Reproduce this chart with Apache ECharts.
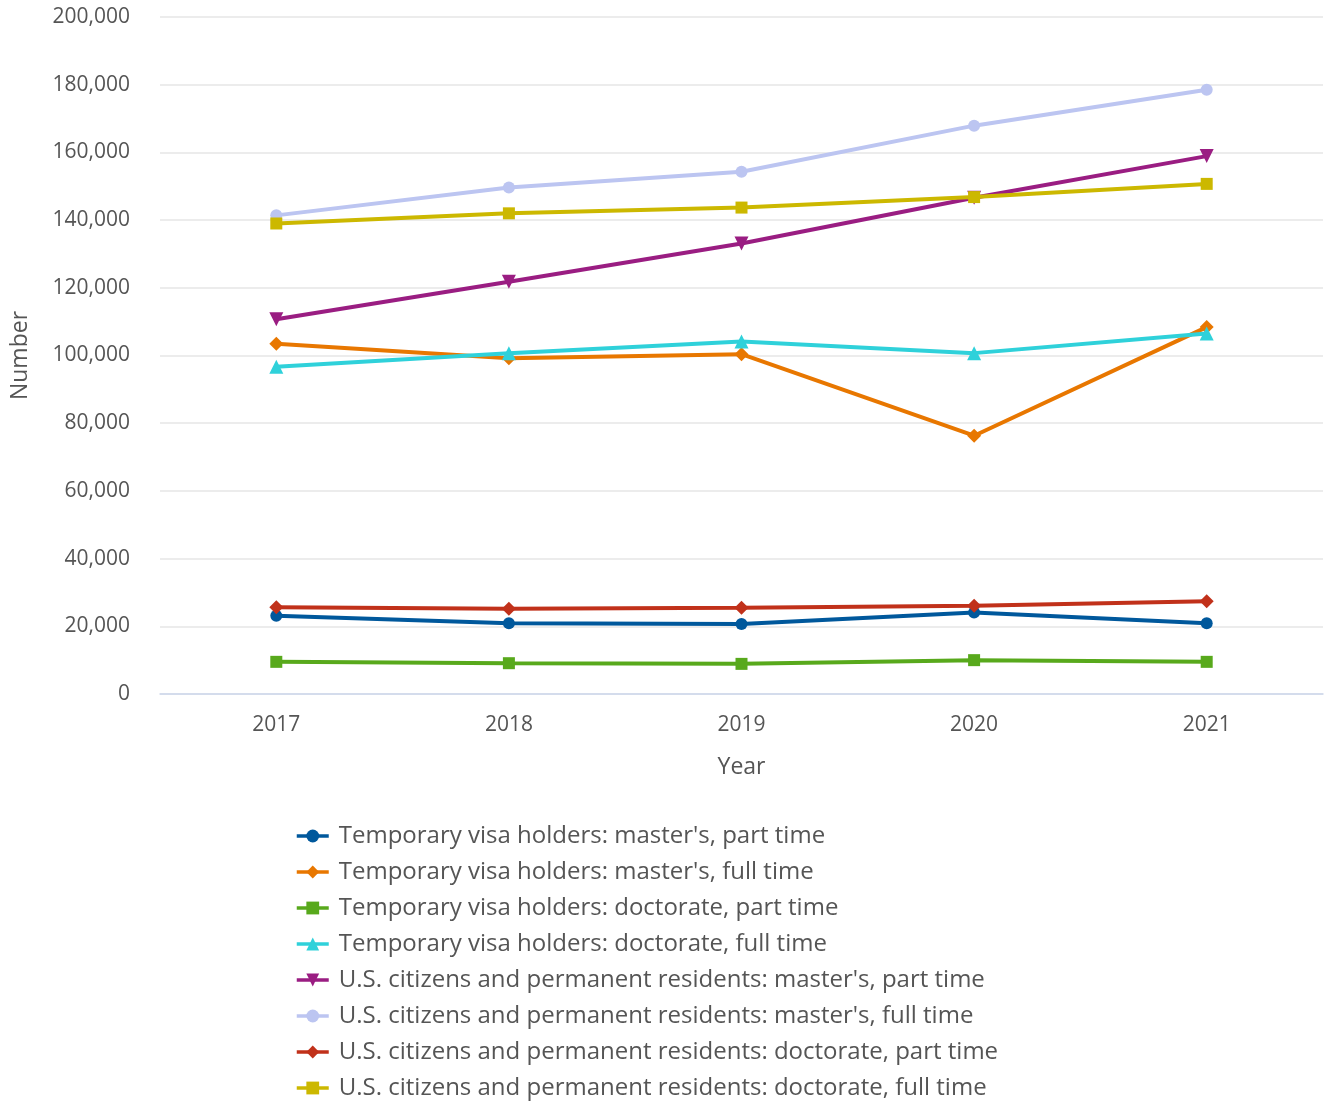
<!DOCTYPE html>
<html><head><meta charset="utf-8">
<script src="https://cdn.jsdelivr.net/npm/echarts@6/dist/echarts.min.js"></script>
<style>html,body{margin:0;padding:0;background:#fff}#c{width:1324px;height:1103px}</style>
</head><body><div id="c"></div>
<script>
const years = ['2017','2018','2019','2020','2021'];
const seriesNames = [
  "Temporary visa holders: master's, part time",
  "Temporary visa holders: master's, full time",
  "Temporary visa holders: doctorate, part time",
  "Temporary visa holders: doctorate, full time",
  "U.S. citizens and permanent residents: master's, part time",
  "U.S. citizens and permanent residents: master's, full time",
  "U.S. citizens and permanent residents: doctorate, part time",
  "U.S. citizens and permanent residents: doctorate, full time"
];
const tvMastersPT = [23100, 20900, 20700, 24100, 20900];
const tvMastersFT = [103500, 99200, 100400, 76300, 108400];
const tvDoctoratePT = [9500, 9100, 8900, 10000, 9500];
const tvDoctorateFT = [96700, 100700, 104100, 100700, 106500];
const usMastersPT = [110700, 121800, 133100, 146600, 158900];
const usMastersFT = [141400, 149600, 154300, 167900, 178500];
const usDoctoratePT = [25600, 25200, 25500, 26100, 27400];
const usDoctorateFT = [139000, 142000, 143700, 146800, 150700];
const yTicks = {min: 0, max: 200000, interval: 20000};

const allData = [tvMastersPT, tvMastersFT, tvDoctoratePT, tvDoctorateFT, usMastersPT, usMastersFT, usDoctoratePT, usDoctorateFT];
const colors = ['#00589c','#e87700','#58a91c','#2fd1da','#9a1d82','#bcc5f1','#c1311a','#ccb800'];
const symbols = ['circle','diamond','rect','triangle','triangle','circle','diamond','rect'];
const rotates = [0,0,0,0,180,0,0,0];
const sizes = [12,14,12,14,14,12,14,12];
const font = '"Open Sans", "Noto Sans", sans-serif';

const chart = echarts.init(document.getElementById('c'), null, {renderer:'canvas'});
chart.setOption({
  animation: false,
  color: colors,
  textStyle: {fontFamily: font},
  grid: {left: 160, right: 1, top: 17, bottom: 409, containLabel: false, outerBoundsMode: 'none'},
  legend: {
    orient: 'vertical', left: 295, top: 824, itemGap: 12, padding: 0,
    itemWidth: 32, itemHeight: 16, height: 279,
    lineStyle: {width: 3.5},
    textStyle: {fontSize: 24, color: '#555', fontFamily: font, padding: [0,0,0,5]},
    data: seriesNames
  },
  xAxis: {
    type: 'category', data: years, boundaryGap: true,
    name: 'Year', nameLocation: 'middle', nameGap: 62,
    nameTextStyle: {fontSize: 23, color: '#555', fontFamily: font},
    axisLine: {lineStyle: {color: '#ccd6eb', width: 1.5}},
    axisTick: {alignWithLabel: true, length: 10, lineStyle: {color: '#ccd6eb', width: 1.5}},
    axisLabel: {fontSize: 21, color: '#555', margin: 21, fontFamily: font},
    splitLine: {show: false}
  },
  yAxis: {
    type: 'value', min: yTicks.min, max: yTicks.max, interval: yTicks.interval,
    name: 'Number', nameLocation: 'middle', nameGap: 128, nameRotate: 90,
    nameTextStyle: {fontSize: 23, color: '#555', fontFamily: font},
    axisLine: {show: false}, axisTick: {show: false},
    axisLabel: {fontSize: 21, color: '#555', margin: 30, fontFamily: font,
      formatter: v => v.toLocaleString('en-US')},
    splitLine: {lineStyle: {color: '#e6e6e6', width: 1.5}}
  },
  series: seriesNames.map((n, i) => ({
    name: n, type: 'line', data: allData[i],
    symbol: symbols[i], symbolSize: sizes[i], symbolRotate: rotates[i],
    showAllSymbol: true,
    lineStyle: {width: 4, color: colors[i]},
    itemStyle: {color: colors[i]},
    emphasis: {disabled: true}
  }))
});
</script></body></html>
